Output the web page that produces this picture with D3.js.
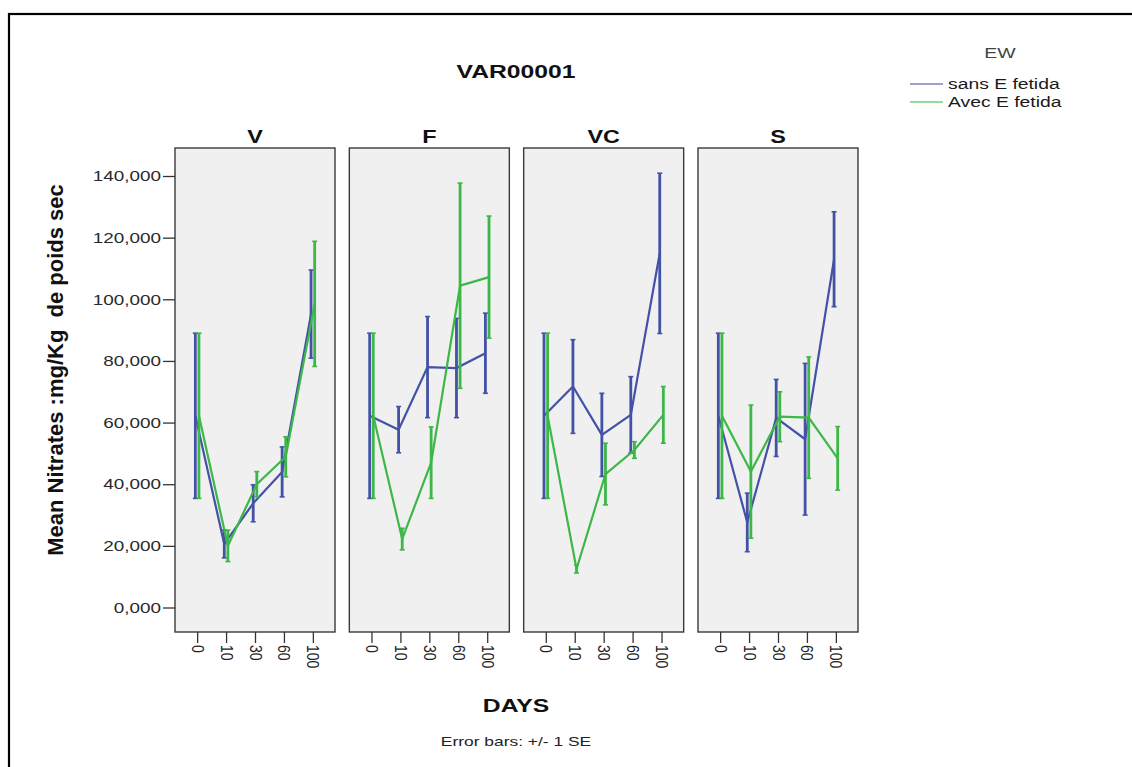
<!DOCTYPE html>
<html>
<head>
<meta charset="utf-8">
<script src="https://cdn.jsdelivr.net/npm/d3@7"></script>
<style>
  body { margin: 0; background: #fff; }
  svg { display: block; font-family: "Liberation Sans", Arial, sans-serif; }
  text { white-space: pre; }
</style>
</head>
<body>
<script>
// ---------- data ----------
const panels = ["V", "F", "VC", "S"];
const days = ["0", "10", "30", "60", "100"];
const seriesNames = ["sans E fetida", "Avec E fetida"];
const seriesColors = ["#4351a6", "#3db748"];

// means and standard errors, one row per panel (V, F, VC, S), one value per day
const sansMean = [
  [62200, 20600, 33800, 44000, 95200],
  [62200, 57700, 78000, 77700, 82500],
  [62200, 71700, 56000, 62500, 114900],
  [62200, 27600, 61500, 54600, 113000]
];
const sansSE = [
  [26800, 4500, 6000, 8100, 14300],
  [26800, 7500, 16400, 16100, 13000],
  [26800, 15200, 13500, 12400, 26000],
  [26800, 9500, 12500, 24600, 15400]
];
const avecMean = [
  [62200, 20000, 40000, 48900, 98500],
  [62200, 22200, 47000, 104400, 107200],
  [62200, 12500, 43300, 51100, 62500],
  [62200, 44100, 61900, 61600, 48400]
];
const avecSE = [
  [26800, 5100, 4100, 6500, 20300],
  [26800, 3500, 11600, 33300, 19800],
  [26800, 1300, 10000, 2700, 9200],
  [26800, 21600, 8100, 19700, 10300]
];

const yTicks = [0, 20000, 40000, 60000, 80000, 100000, 120000, 140000];
const yTickLabels = ["0,000", "20,000", "40,000", "60,000", "80,000", "100,000", "120,000", "140,000"];

// ---------- layout ----------
const W = 1132, H = 767;
const panelTop = 148, panelBottom = 632;
const SX = 1.3; // horizontal text stretch

const svg = d3.select("body").append("svg").attr("width", W).attr("height", H);

// outer frame (cut by the image edge on the right and bottom)
svg.append("rect").attr("x", 9).attr("y", 14).attr("width", W + 20).attr("height", H + 20)
  .attr("fill", "none").attr("stroke", "#000").attr("stroke-width", 2.2);

const fx = d3.scaleBand().domain(panels).range([175, 858]).paddingInner(0.0822);
const x = d3.scalePoint().domain(days).range([0, fx.bandwidth()]).padding(0.765);
const y = d3.scaleLinear().domain([0, 140000]).range([607.5, 176]);

function label(px, py, txt, size, opts = {}) {
  const sx = opts.sx || SX;
  const rot = opts.rotate ? ` rotate(${opts.rotate})` : "";
  return svg.append("text")
    .attr("transform", `translate(${px},${py}) scale(${sx},1)${rot}`)
    .attr("text-anchor", opts.anchor || "middle")
    .attr("dominant-baseline", opts.baseline || "auto")
    .attr("font-size", size)
    .attr("font-weight", opts.bold ? "bold" : "normal")
    .attr("fill", opts.fill || "#111")
    .text(txt);
}

// panels
panels.forEach((p, i) => {
  const g = svg.append("g").attr("transform", `translate(${fx(p)},0)`);
  g.append("rect").attr("x", 0).attr("y", panelTop)
    .attr("width", fx.bandwidth()).attr("height", panelBottom - panelTop)
    .attr("fill", "#f0f0f0").attr("stroke", "#3a3a3a").attr("stroke-width", 1.4);

  // x axis
  const ax = g.append("g").attr("transform", `translate(0,${panelBottom})`)
    .call(d3.axisBottom(x).tickSize(11).tickSizeOuter(0));
  ax.select(".domain").remove();
  ax.selectAll(".tick line").attr("stroke", "#333").attr("stroke-width", 1.3);
  ax.selectAll(".tick text")
    .attr("x", null).attr("y", null).attr("dy", null)
    .attr("transform", `translate(0,13) scale(1.2,1) rotate(90)`)
    .attr("text-anchor", "start")
    .attr("dominant-baseline", "central")
    .attr("font-size", 14)
    .attr("font-family", "Liberation Sans, Arial, sans-serif")
    .attr("fill", "#222");

  const series = [
    { mean: sansMean[i], se: sansSE[i], color: seriesColors[0], dx: -1.8 },
    { mean: avecMean[i], se: avecSE[i], color: seriesColors[1], dx: 1.8 }
  ];
  series.forEach(s => {
    const line = d3.line().x((d, j) => x(days[j]) + s.dx).y(d => y(d));
    g.append("path").datum(s.mean).attr("d", line)
      .attr("fill", "none").attr("stroke", s.color).attr("stroke-width", 2.2);
    const eb = g.append("g");
    s.mean.forEach((m, j) => {
      const cx = x(days[j]) + s.dx;
      const lo = y(m - s.se[j]), hi = y(m + s.se[j]);
      eb.append("line").attr("x1", cx).attr("x2", cx).attr("y1", lo).attr("y2", hi)
        .attr("stroke", s.color).attr("stroke-width", 2.8);
      [lo, hi].forEach(yy => eb.append("line")
        .attr("x1", cx - 2.5).attr("x2", cx + 2.5).attr("y1", yy).attr("y2", yy)
        .attr("stroke", s.color).attr("stroke-width", 1.6));
    });
  });

  label(fx(p) + fx.bandwidth() / 2, 143, p, 18, { bold: true });
});

// y axis
const ay = svg.append("g").attr("transform", `translate(${fx(panels[0])},0)`)
  .call(d3.axisLeft(y).tickValues(yTicks).tickFormat((d, i) => yTickLabels[i]).tickSize(12).tickSizeOuter(0));
ay.select(".domain").remove();
ay.selectAll(".tick line").attr("stroke", "#333").attr("stroke-width", 1.3);
ay.selectAll(".tick text")
  .attr("x", -14 / 1.35).attr("dy", "0.34em")
  .attr("transform", "scale(1.35,1)")
  .attr("font-size", 14)
  .attr("font-family", "Liberation Sans, Arial, sans-serif")
  .attr("fill", "#2a2a2a");

// titles
label(516, 78, "VAR00001", 19, { bold: true });
label(516, 712, "DAYS", 19, { bold: true });
label(516, 746, "Error bars: +/- 1 SE", 12, { sx: 1.45, fill: "#222" });
label(55, 370, "Mean Nitrates :mg/Kg  de poids sec", 22, { bold: true, sx: 1, rotate: -90, baseline: "central" });

// legend
label(1000, 58, "EW", 15, { fill: "#444" });
seriesNames.forEach((n, i) => {
  const ly = 84 + i * 18;
  svg.append("line").attr("x1", 910).attr("x2", 943).attr("y1", ly).attr("y2", ly)
    .attr("stroke", seriesColors[i]).attr("stroke-width", 1.6).attr("opacity", 0.7);
  label(948, ly + 5, n, 14, { anchor: "start", sx: 1.38, fill: "#1a1a1a" });
});
</script>
</body>
</html>
